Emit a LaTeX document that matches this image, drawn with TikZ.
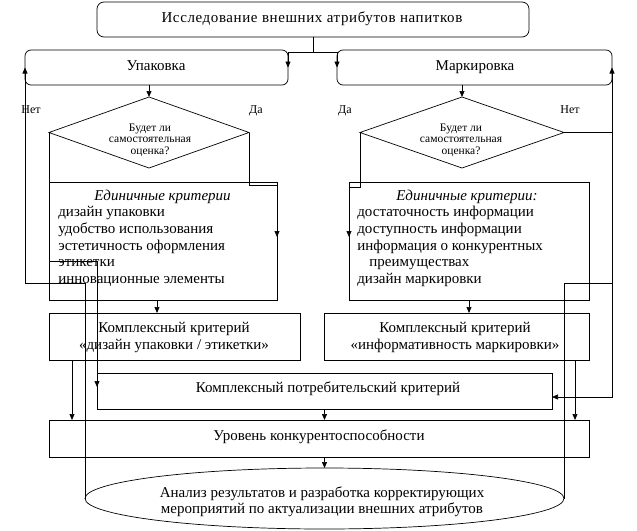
\documentclass[tikz,border=0pt]{standalone}
\usepackage{fontspec}
\setmainfont{Liberation Serif}
\usetikzlibrary{arrows.meta,shapes.geometric,calc}
\begin{document}
\begin{tikzpicture}[x=1pt,y=-1pt,line width=0.7pt,
  bx/.style={draw,rectangle,inner sep=0pt,outer sep=0pt},
  rbx/.style={bx,rounded corners=7pt},
  dm/.style={draw,diamond,inner sep=0pt,outer sep=0pt},
  el/.style={draw,ellipse,inner sep=0pt,outer sep=0pt},
  tx/.style={font=\fontsize{15}{17}\selectfont,inner sep=0pt,anchor=base},
  txl/.style={tx,anchor=base west},
  tit/.style={tx,font=\fontsize{15}{17}\selectfont\itshape},
  dtx/.style={font=\fontsize{11.5}{12}\selectfont,inner sep=0pt,anchor=base},
  lb/.style={font=\fontsize{12}{13}\selectfont,inner sep=0pt,anchor=base},
  arr/.style={-{Triangle[length=6pt,width=5pt]}}]
\useasboundingbox (0,0) rectangle (637,530);

% boxes
\node[rbx,minimum width=432pt,minimum height=35pt] (top) at (313,19.5) {};
\node[rbx,minimum width=263pt,minimum height=35pt,rounded corners=6pt] (up) at (156.5,67.5) {};
\node[rbx,minimum width=275pt,minimum height=35pt,rounded corners=6pt] (mark) at (474.5,67.5) {};
\node[dm,minimum width=200pt,minimum height=71pt] (d1) at (149,132.5) {};
\node[dm,minimum width=204pt,minimum height=71pt] (d2) at (462,132.5) {};
\node[bx,minimum width=228pt,minimum height=118pt] (ed1) at (163,241) {};
\node[bx,minimum width=240pt,minimum height=118pt] (ed2) at (469,241) {};
\node[bx,minimum width=251pt,minimum height=47pt] (k1) at (174.5,336.5) {};
\node[bx,minimum width=265pt,minimum height=47pt] (k2) at (456.5,336.5) {};
\node[bx,minimum width=455pt,minimum height=36pt] (kp) at (324.5,391) {};
\node[bx,minimum width=540pt,minimum height=37pt] (ur) at (319,438.5) {};
\node[el,minimum width=479pt,minimum height=61pt] (an) at (324.5,498.5) {};

% texts
\node[tx] (ttop) at (312,22) {\addfontfeatures{LetterSpace=4}Исследование внешних атрибутов напитков};
\node[tx] (tup) at (156,70) {Упаковка};
\node[tx] (tmark) at (475,70) {Маркировка};
\node[dtx] (td1a) at (150,131) {Будет ли};
\node[dtx] (td1b) at (150,142.5) {самостоятельная};
\node[dtx] (td1c) at (150,154) {оценка?};
\node[dtx] (td2a) at (461,131) {Будет ли};
\node[dtx] (td2b) at (461,142.5) {самостоятельная};
\node[dtx] (td2c) at (461,154) {оценка?};
\node[lb] (no1) at (31,113) {Нет};
\node[lb] (yes1) at (256,113) {Да};
\node[lb] (yes2) at (345,113) {Да};
\node[lb] (no2) at (570,113) {Нет};

\node[tit] (te1) at (162.5,200) {Единичные критерии};
\node[txl] (e1a) at (58,216.5) {дизайн упаковки};
\node[txl] (e1b) at (58,233.3) {удобство использования};
\node[txl] (e1c) at (58,250) {эстетичность оформления};
\node[txl] (e1d) at (58,266.7) {этикетки};
\node[txl] (e1e) at (58,283.4) {инновационные элементы};

\node[tit] (te2) at (467,200) {Единичные критерии:};
\node[txl] (e2a) at (357,216.5) {достаточность информации};
\node[txl] (e2b) at (357,233.3) {доступность информации};
\node[txl] (e2c) at (357,250) {информация о конкурентных};
\node[txl] (e2d) at (369,266.7) {преимуществах};
\node[txl] (e2e) at (357,283.4) {дизайн маркировки};

\node[tx] (k1a) at (174,332) {Комплексный критерий};
\node[tx] (k1b) at (174,349.5) {«дизайн упаковки / этикетки»};
\node[tx] (k2a) at (455,332) {Комплексный критерий};
\node[tx] (k2b) at (455,349.5) {«информативность маркировки»};
\node[tx] (tkp) at (328,392) {Комплексный потребительский критерий};
\node[tx] (tur) at (319,440) {Уровень конкурентоспособности};
\node[tx] (tan1) at (322,497) {Анализ результатов и разработка корректирующих};
\node[tx] (tan2) at (322,513) {мероприятий по актуализации внешних атрибутов};

% helper coordinates
\coordinate (fbL) at (85,283);
\coordinate (fbR) at (mark.east |- fbL);
\coordinate (c1) at ($(k1.south west)+(23,0)$);
\coordinate (c2) at ($(k2.south east)+(-14,0)$);
\coordinate (e1o) at ($(ed1.south)+(-6,0)$);
\coordinate (kpin) at ($(kp.east)+(0,6)$);
\coordinate (kpl) at ($(kp.west)+(0,-4)$);
\coordinate (e1l) at ($(ed1.west)+(0,20)$);

% connectors
\draw (top.south) -- ++(0,15) coordinate (jt);
\draw[arr] (jt) -| (up.east);
\draw[arr] (jt) -| (mark.west);
\draw[arr] (up.south -| d1.north) -- (d1.north);
\draw[arr] (mark.south -| d2.north) -- (d2.north);
\draw (d1.west) -- (ed1.north west);
\draw[arr] (d1.east) |- ($(ed1.north east)+(0,3)$) -- ($(ed1.east)+(0,-4)$);
\draw[arr] (d2.west) |- ($(ed2.north west)+(0,5)$) -- ($(ed2.west)+(0,-4)$);
\draw (d2.east) -- (d2.east -| mark.east);
\draw[arr] (e1o) -- (e1o |- k1.north);
\draw[arr] (ed2.south) -- (ed2.south |- k2.north);
\draw[arr] (an.west) -- (an.west |- fbL) -| (up.west);
\draw[arr] (an.east) |- (fbR) -- (mark.east);
\draw[arr] (fbR) |- (kpin);
\draw[arr] (e1l) -| (kpl);
\draw[arr] (c1) -- (c1 |- ur.north);
\draw[arr] (c2) -- (c2 |- ur.north);
\draw[arr] (kp.south) -- (kp.south |- ur.north);
\draw[arr] (an.north |- ur.south) -- (an.north);
\end{tikzpicture}
\end{document}
